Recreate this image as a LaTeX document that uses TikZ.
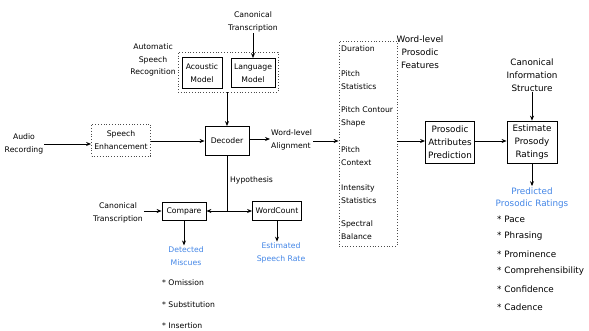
\documentclass[tikz,border=0pt]{standalone}
\usepackage{fontspec}
\setmainfont{DejaVu Sans}
\usetikzlibrary{arrows.meta,positioning}
\definecolor{outblue}{RGB}{66,133,230}

\begin{document}
\begin{tikzpicture}[x=1pt,y=-1pt,
    font=\fontsize{7.7}{12.8}\selectfont,
    big/.style={font=\fontsize{8.8}{12.8}\selectfont},
    block/.style={draw,thick,align=center,inner sep=1pt},
    dotbox/.style={draw=black!70,dotted,line width=0.8pt,inner sep=0pt},
    lbl/.style={align=center,inner sep=1pt},
    result/.style={align=center,inner sep=1pt,text=outblue},
    flow/.style={-{Stealth[length=5pt,width=4pt]},line width=0.8pt}]
  \useasboundingbox (0,0) rectangle (589,331);
  % speech recognition part
  \node[lbl] (canon1) at (253,22) {Canonical\\Transcription};
  \node[dotbox,minimum width=100pt,minimum height=40pt] (asr) at (228,72) {};
  \node[block,minimum width=40pt,minimum height=31pt] (am) at (202,73) {Acoustic\\Model};
  \node[block,minimum width=44pt,minimum height=29pt] (lm) at (253,73) {Language\\Model};
  \node[lbl] (asrlbl) at (153,60) {Automatic\\Speech\\Recognition};
  \node[block,minimum width=44pt,minimum height=29pt] (dec) at (227,141) {Decoder};
  \node[lbl] (audio) at (24,144) {Audio\\Recording};
  \node[dotbox,lbl,minimum width=59pt,minimum height=32pt] (enh) at (121,140) {Speech\\Enhancement};
  \node[lbl,anchor=west,align=left] (align) at (270,140) {Word-level\\Alignment};
  \draw[flow] (canon1) -- (lm.north);
  \draw[flow] (asr.south -| dec.north) -- (dec.north);
  \draw[flow] (audio) -- (audio -| enh.west);
  \draw[flow] (enh.east |- dec) -- (dec);
  \draw[flow] (dec.east |- 0,139) -- (align.west |- 0,139);
  % prosodic features
  \node[dotbox,minimum width=58pt,minimum height=205pt] (feat) at (368,143.5) {};
  \foreach \y/\name in {49/Duration,80/Pitch\\Statistics,117/Pitch Contour\\Shape,
      156/Pitch\\Context,194/Intensity\\Statistics,230/Spectral\\Balance} {
    \node[lbl,anchor=west,align=left] at (340,\y) {\name};
  }
  \node[lbl,big] (featlbl) at (420,52) {Word-level\\Prosodic\\Features};
  \node[block,big,minimum width=49pt,minimum height=42pt] (pap) at (450,142) {Prosodic\\Attributes\\Prediction};
  \node[block,big,minimum width=50pt,minimum height=42pt] (epr) at (532,142) {Estimate\\Prosody\\Ratings};
  \node[lbl,big] (info) at (532,75) {Canonical\\Information\\Structure};
  \node[result,big] (pred) at (532,198) {Predicted\\Prosodic Ratings};
  \draw[flow] (align.east |- 0,141) -- (feat.west |- 0,141);
  \draw[flow] (feat.east |- 0,141) -- (pap.west |- 0,141);
  \draw[flow] (pap.east |- 0,141) -- (epr.west |- 0,141);
  \draw[flow] (info) -- (epr);
  \draw[flow] (epr) -- (pred);
  \foreach \y/\name in {219/Pace,236/Phrasing,254/Prominence,271/Comprehensibility,289/Confidence,307/Cadence} {
    \node[lbl,big,anchor=west] at (496,\y) {* \name};
  }
  % hypothesis part
  \coordinate (split) at (227,211);
  \node[block,minimum width=44pt,minimum height=18pt] (cmp) at (184,211) {Compare};
  \node[block,minimum width=49pt,minimum height=19pt] (wc) at (277,211) {WordCount};
  \node[lbl,anchor=west] (hyp) at (229,180) {Hypothesis};
  \node[lbl] (canon2) at (118,213) {Canonical\\Transcription};
  \node[result] (miscue) at (186,256) {Detected\\Miscues};
  \node[result] (rate) at (281,253) {Estimated\\Speech Rate};
  \draw[line width=0.8pt] (dec) -- (split);
  \draw[flow] (split) -- (cmp);
  \draw[flow] (split) -- (wc);
  \draw[flow] (canon2.east |- cmp) -- (cmp);
  \draw[flow] (cmp) -- (cmp |- miscue.north);
  \draw[flow] (wc) -- (wc |- rate.north);
  \foreach \y/\name in {283/Omission,305/Substitution,326/Insertion} {
    \node[lbl,anchor=west] at (161,\y) {* \name};
  }
\end{tikzpicture}
\end{document}
